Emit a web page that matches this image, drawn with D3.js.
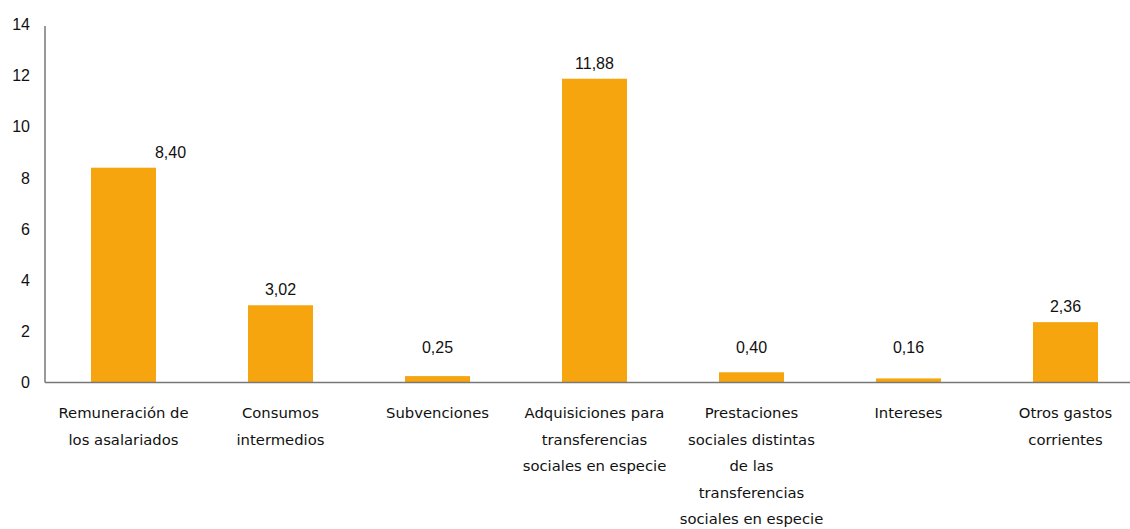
<!DOCTYPE html>
<html><head><meta charset="utf-8">
<script src="https://cdn.jsdelivr.net/npm/d3@7"></script>
<style>body{margin:0;background:#fff}</style>
</head><body><svg id="c" width="1130" height="529"></svg>
<script>
const categories = [
  ["Remuneración de","los asalariados"],
  ["Consumos","intermedios"],
  ["Subvenciones"],
  ["Adquisiciones para","transferencias","sociales en especie"],
  ["Prestaciones","sociales distintas","de las","transferencias","sociales en especie"],
  ["Intereses"],
  ["Otros gastos","corrientes"]
];
const values = [8.40, 3.02, 0.25, 11.88, 0.40, 0.16, 2.36];
const valueLabels = ["8,40","3,02","0,25","11,88","0,40","0,16","2,36"];
const yTicks = [0,2,4,6,8,10,12,14];

const svg = d3.select("#c");
const x0 = 45, x1 = 1144, yBottom = 382.5, yTop = 24.5;
const x = d3.scaleBand().domain(d3.range(categories.length)).range([x0, x1]).padding(0);
const y = d3.scaleLinear().domain([0,14]).range([yBottom, yTop]);
const barW = x.bandwidth() * 0.414;

// bars
svg.selectAll("rect.bar").data(values).enter().append("rect")
  .attr("x", (d,i) => x(i) + x.bandwidth()/2 - barW/2)
  .attr("y", d => y(d))
  .attr("width", barW)
  .attr("height", d => yBottom - y(d))
  .attr("fill", "#F6A50E");

// y axis
const yAxis = d3.axisLeft(y).tickValues(yTicks).tickSize(0).tickPadding(15).tickFormat(d3.format("d"));
const gy = svg.append("g").attr("transform", `translate(${x0},0)`).call(yAxis);
gy.select(".domain").attr("stroke", "#333").attr("d", `M0,${y(13.94)}V${yBottom}`);
gy.selectAll("text").attr("font-family", "Liberation Sans, Arial, sans-serif").attr("font-size", 16).attr("fill", "#111");

// x axis line
svg.append("line").attr("x1", x0).attr("x2", 1130).attr("y1", yBottom).attr("y2", yBottom)
  .attr("stroke", "#777").attr("stroke-width", 1.5);

// value labels
svg.selectAll("text.val").data(values).enter().append("text")
  .attr("x", (d,i) => x(i) + x.bandwidth()/2 + (i === 0 ? 47 : 0))
  .attr("y", d => Math.min(y(d) - 10, 353))
  .attr("text-anchor", "middle")
  .attr("font-family", "Liberation Sans, Arial, sans-serif")
  .attr("font-size", 16).attr("fill", "#111")
  .text((d,i) => valueLabels[i]);

// category labels
const cg = svg.selectAll("text.cat").data(categories).enter().append("text")
  .attr("text-anchor", "middle")
  .attr("font-family", "DejaVu Sans, sans-serif")
  .attr("font-size", 14.8).attr("fill", "#111");
cg.each(function(lines, i) {
  const t = d3.select(this);
  lines.forEach((l, j) => {
    t.append("tspan").attr("x", x(i) + x.bandwidth()/2).attr("y", 418 + j*26.6).text(l);
  });
});
</script></body></html>
